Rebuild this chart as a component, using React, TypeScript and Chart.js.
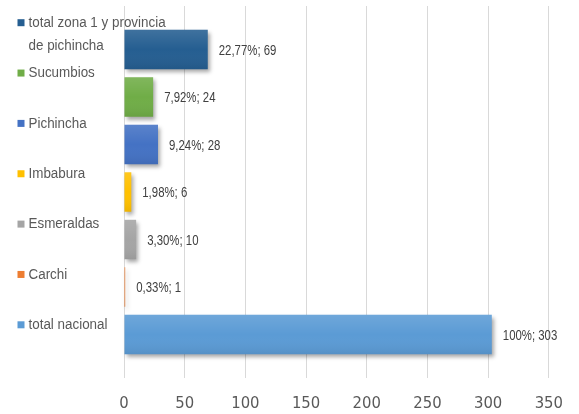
import React, { useEffect, useRef } from 'react';
import { Chart, registerables } from 'chart.js';

Chart.register(...registerables);

const categories = [''];
const seriesNames: string[][] = [
  ['total zona 1 y provincia', 'de pichincha'],
  ['Sucumbios'],
  ['Pichincha'],
  ['Imbabura'],
  ['Esmeraldas'],
  ['Carchi'],
  ['total nacional'],
];
const seriesValues = [69, 24, 28, 6, 10, 1, 303];
const seriesPercents = ['22,77%', '7,92%', '9,24%', '1,98%', '3,30%', '0,33%', '100%'];
const seriesColors = ['#255E91', '#70AD47', '#4472C4', '#FFC000', '#A5A5A5', '#ED7D31', '#5B9BD5'];
const xMin = 0;
const xMax = 350;
const xStep = 50;

const TEXT_FONT = "'Liberation Sans', Arial, sans-serif";
const TICK_FONT = "'DejaVu Sans Condensed', 'Liberation Sans', sans-serif";

function narrowText(ctx: any, text: string, x: number, y: number, sx: number) {
  ctx.save();
  ctx.translate(x, y);
  ctx.scale(sx, 1);
  ctx.fillText(text, 0, 0);
  ctx.restore();
}

const barEffects = {
  id: 'barEffects',
  beforeDatasetDraw(chart: any) {
    const ctx = chart.ctx;
    ctx.save();
    ctx.shadowColor = 'rgba(0,0,0,0.35)';
    ctx.shadowBlur = 4;
    ctx.shadowOffsetX = 2;
    ctx.shadowOffsetY = 3;
  },
  afterDatasetDraw(chart: any, args: any) {
    const ctx = chart.ctx;
    ctx.restore();
    const meta = args.meta;
    meta.data.forEach((el: any) => {
      const { x, y, base, height } = el.getProps(['x', 'y', 'base', 'height'], true);
      const top = y - height / 2;
      const g = ctx.createLinearGradient(0, top, 0, top + height);
      g.addColorStop(0, 'rgba(255,255,255,0.12)');
      g.addColorStop(0.5, 'rgba(255,255,255,0.0)');
      g.addColorStop(1, 'rgba(0,0,0,0.07)');
      ctx.save();
      ctx.fillStyle = g;
      ctx.fillRect(Math.min(base, x), top, Math.abs(x - base), height);
      ctx.restore();
    });
  },
};

const dataLabels = {
  id: 'dataLabels',
  afterDatasetsDraw(chart: any) {
    const ctx = chart.ctx;
    ctx.save();
    ctx.font = `15px ${TEXT_FONT}`;
    ctx.fillStyle = '#404040';
    ctx.textBaseline = 'middle';
    ctx.textAlign = 'left';
    chart.data.datasets.forEach((ds: any, i: number) => {
      const meta = chart.getDatasetMeta(i);
      meta.data.forEach((el: any, j: number) => {
        const { x, y } = el.getProps(['x', 'y'], true);
        narrowText(ctx, `${seriesPercents[i]}; ${ds.data[j]}`, x + 11, y + 1, 0.76);
      });
    });
    ctx.restore();
  },
};

const sideLegend = {
  id: 'sideLegend',
  afterDraw(chart: any) {
    const ctx = chart.ctx;
    ctx.save();
    ctx.font = `15.5px ${TEXT_FONT}`;
    ctx.textBaseline = 'middle';
    ctx.textAlign = 'left';
    const firstY = 22.7;
    const spacing = 50.35;
    const lineGap = 23.5;
    seriesNames.forEach((lines, i) => {
      const y = firstY + i * spacing;
      ctx.fillStyle = seriesColors[i];
      ctx.fillRect(17.5, y - 3.5, 7, 7);
      ctx.fillStyle = '#595959';
      lines.forEach((t, k) => narrowText(ctx, t, 28.5, y + k * lineGap, 0.865));
    });
    ctx.restore();
  },
};

export default function App() {
  const ref = useRef<HTMLCanvasElement | null>(null);
  useEffect(() => {
    if (!ref.current) return;
    const chart = new Chart(ref.current, {
      type: 'bar',
      data: {
        labels: categories,
        datasets: seriesNames.map((n, i) => ({
          label: n.join(' '),
          data: [seriesValues[i]],
          backgroundColor: seriesColors[i],
          borderWidth: 0,
          categoryPercentage: 0.894,
          barPercentage: 0.83,
          clip: false as any,
        })),
      },
      options: {
        indexAxis: 'y',
        animation: false,
        responsive: false,
        devicePixelRatio: 1,
        layout: { padding: { left: 124, right: 21, top: 6, bottom: 0 } },
        plugins: {
          legend: { display: false },
          tooltip: { enabled: false },
          title: { display: false },
        },
        scales: {
          x: {
            min: xMin,
            max: xMax,
            border: { display: false },
            grid: { color: '#d9d9d9', drawTicks: false, lineWidth: 1 },
            ticks: {
              stepSize: xStep,
              padding: 16,
              color: '#595959',
              font: { family: TICK_FONT, size: 16.5 },
            },
            afterFit: (scale: any) => {
              scale.height = 36;
            },
          },
          y: {
            display: false,
          },
        },
      },
      plugins: [barEffects, dataLabels, sideLegend],
    });
    return () => chart.destroy();
  }, []);
  return (
    <div style={{ position: 'fixed', left: 0, top: 0, width: 579, height: 414, background: '#fff' }}>
      <canvas ref={ref} width={579} height={414} style={{ width: 579, height: 414, display: 'block' }} />
    </div>
  );
}
